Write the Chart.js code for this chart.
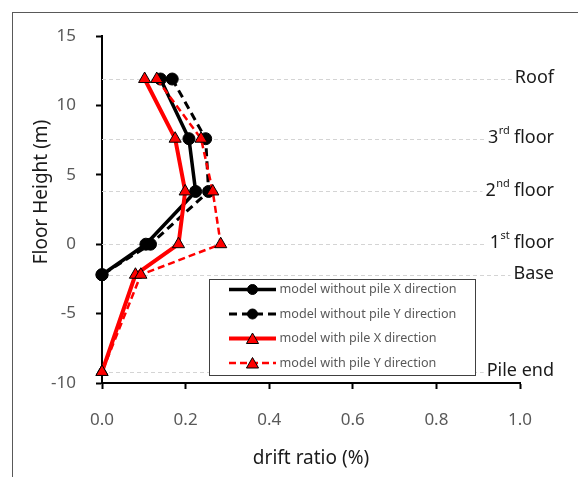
<!DOCTYPE html>
<html>
<head>
<meta charset="utf-8">
<script src="https://cdn.jsdelivr.net/npm/chart.js@4.4.0/dist/chart.umd.min.js"></script>
<style>
html, body { margin: 0; padding: 0; background: #fff; }
</style>
</head>
<body>
<canvas id="myDriftChart" width="578" height="477"></canvas>
<script>
// story levels, top to bottom (m)
var floorHeights = [11.9, 7.6, 3.8, 0, -2.2, -9.2];
var floorNames = ["Roof", "3rd floor", "2nd floor", "1st floor", "Base", "Pile end"];

// drift ratio (%) at each level, roof first
var driftNoPileX = [0.140, 0.208, 0.224, 0.105, 0];
var driftNoPileY = [0.168, 0.248, 0.255, 0.116, 0];
var driftPileX = [0.102, 0.175, 0.199, 0.183, 0.080, 0];
var driftPileY = [0.131, 0.237, 0.265, 0.284, 0.093, 0];

var xTicks = [0, 0.2, 0.4, 0.6, 0.8, 1.0];
var yTicks = [-10, -5, 0, 5, 10, 15];

function toPoints(drift) {
    var pts = [];
    for (var i = 0; i < drift.length; i++) pts.push({ x: drift[i], y: floorHeights[i] });
    return pts;
}

Chart.defaults.font.family = '"Noto Sans", sans-serif';

// dashed level lines + "Roof", "3rd floor" ... on the right
var floorLinesPlugin = {
    id: 'floorLines',
    beforeDatasetsDraw: function (chart) {
        var ctx = chart.ctx, area = chart.chartArea, y = chart.scales.y;
        ctx.save();
        for (var i = 0; i < floorHeights.length; i++) {
            var py = y.getPixelForValue(floorHeights[i]);
            var w = labelWidth(ctx, floorNames[i]);
            ctx.strokeStyle = '#d4d4d4';
            ctx.lineWidth = 1;
            ctx.setLineDash([4, 3]);
            ctx.beginPath();
            ctx.moveTo(area.left, Math.round(py) + 0.5);
            ctx.lineTo(554 - w - 3, Math.round(py) + 0.5);
            ctx.stroke();
        }
        ctx.restore();
    },
    afterDraw: function (chart) {
        var ctx = chart.ctx, y = chart.scales.y;
        ctx.save();
        ctx.fillStyle = '#1a1a1a';
        ctx.textBaseline = 'middle';
        for (var i = 0; i < floorHeights.length; i++) {
            var py = y.getPixelForValue(floorHeights[i]);
            drawLabel(ctx, floorNames[i], 554, py - 1);
        }
        ctx.restore();
    }
};

function splitOrdinal(text) {
    var m = /^(\d+)(st|nd|rd|th)(.*)$/.exec(text);
    if (!m) return [text, '', ''];
    return [m[1], m[2], m[3]];
}

function labelWidth(ctx, text) {
    var p = splitOrdinal(text);
    ctx.font = '18px "Noto Sans"';
    var w = ctx.measureText(p[0]).width + ctx.measureText(p[2]).width;
    ctx.font = '11px "Noto Sans"';
    return w + ctx.measureText(p[1]).width;
}

function drawLabel(ctx, text, right, py) {
    var p = splitOrdinal(text);
    var x = right - labelWidth(ctx, text);
    ctx.textAlign = 'left';
    ctx.font = '18px "Noto Sans"';
    ctx.fillText(p[0], x, py);
    x += ctx.measureText(p[0]).width;
    if (p[1]) {
        ctx.font = '11px "Noto Sans"';
        ctx.fillText(p[1], x + 0.5, py - 7);
        x += ctx.measureText(p[1]).width;
        ctx.font = '18px "Noto Sans"';
        ctx.fillText(p[2], x, py);
    }
}

// boxed legend inside the plot, outer frame, y title
var legendBoxPlugin = {
    id: 'legendBox',
    afterDatasetsDraw: function (chart) {
        var ctx = chart.ctx;
        var sets = chart.data.datasets;
        ctx.save();
        ctx.fillStyle = '#fff';
        ctx.fillRect(209, 279, 267, 97);
        ctx.strokeStyle = '#404040';
        ctx.lineWidth = 1;
        ctx.strokeRect(209.5, 279.5, 266, 96);
        for (var i = 0; i < sets.length; i++) {
            var ds = sets[i];
            var ry = 289.5 + i * 24.5;
            ctx.strokeStyle = ds.borderColor;
            ctx.lineWidth = ds.borderWidth;
            ctx.setLineDash(ds.borderDash || []);
            ctx.beginPath();
            ctx.moveTo(229, ry);
            ctx.lineTo(276, ry);
            ctx.stroke();
            ctx.setLineDash([]);
            ctx.fillStyle = ds.pointBackgroundColor;
            ctx.strokeStyle = ds.pointBorderColor;
            ctx.lineWidth = ds.pointBorderWidth;
            Chart.helpers.drawPoint(ctx, {
                pointStyle: ds.pointStyle,
                radius: ds.pointStyle === 'circle' ? 5 : 7,
                borderWidth: ds.pointBorderWidth
            }, 252.5, ry + (ds.pointStyle === 'triangle' ? 1.5 : 0));
            ctx.fillStyle = '#595959';
            ctx.font = '12.6px "Noto Sans"';
            ctx.textAlign = 'left';
            ctx.textBaseline = 'middle';
            ctx.fillText(ds.label, 279.5, ry);
        }
        ctx.restore();
    },
    afterDraw: function (chart) {
        var ctx = chart.ctx;
        ctx.save();
        ctx.strokeStyle = '#595959';
        ctx.lineWidth = 1;
        ctx.strokeRect(12.5, 12.5, 600, 500);
        ctx.translate(42, 192);
        ctx.rotate(-Math.PI / 2);
        ctx.fillStyle = '#1a1a1a';
        ctx.font = '19px "Noto Sans"';
        ctx.textAlign = 'center';
        ctx.textBaseline = 'middle';
        ctx.fillText('Floor Height (m)', 0, 0);
        ctx.restore();
    }
};

var canvasDrift = document.getElementById("myDriftChart");
var myDriftChart = new Chart(canvasDrift, {
    type: 'scatter',
    data: {
        datasets: [
            {
                label: "model without pile X direction",
                data: toPoints(driftNoPileX),
                showLine: true,
                borderColor: "#000",
                borderWidth: 3.5,
                borderJoinStyle: 'round',
                pointStyle: 'circle',
                pointRadius: 6,
                pointBackgroundColor: "#000",
                pointBorderColor: "#000",
                pointBorderWidth: 1,
                order: 4,
                clip: false
            },
            {
                label: "model without pile Y direction",
                data: toPoints(driftNoPileY),
                showLine: true,
                borderColor: "#000",
                borderWidth: 3,
                borderDash: [8, 5],
                borderJoinStyle: 'round',
                pointStyle: 'circle',
                pointRadius: 6,
                pointBackgroundColor: "#000",
                pointBorderColor: "#000",
                pointBorderWidth: 1,
                order: 3,
                clip: false
            },
            {
                label: "model with pile X direction",
                data: toPoints(driftPileX),
                showLine: true,
                borderColor: "#ff0000",
                borderWidth: 4,
                borderJoinStyle: 'round',
                pointStyle: 'triangle',
                pointRadius: 7,
                pointBackgroundColor: "#ff0000",
                pointBorderColor: "#000",
                pointBorderWidth: 1,
                order: 2,
                clip: false
            },
            {
                label: "model with pile Y direction",
                data: toPoints(driftPileY),
                showLine: true,
                borderColor: "#ff0000",
                borderWidth: 2.5,
                borderDash: [7, 4],
                borderJoinStyle: 'round',
                pointStyle: 'triangle',
                pointRadius: 7,
                pointBackgroundColor: "#ff0000",
                pointBorderColor: "#000",
                pointBorderWidth: 1,
                order: 1,
                clip: false
            }
        ]
    },
    options: {
        responsive: false,
        animation: false,
        layout: { padding: { top: 36, right: 58, bottom: 0, left: 0 } },
        plugins: {
            legend: { display: false },
            tooltip: { enabled: false }
        },
        scales: {
            x: {
                type: 'linear',
                min: 0,
                max: 1,
                afterFit: function (scale) { scale.height = 94; },
                afterBuildTicks: function (scale) {
                    scale.ticks = xTicks.map(function (v) { return { value: v }; });
                },
                ticks: {
                    color: '#595959',
                    font: { size: 17 },
                    padding: 21,
                    maxRotation: 0,
                    callback: function (v) { return v.toFixed(1); }
                },
                grid: { drawOnChartArea: false, drawTicks: true, tickLength: 6, tickColor: '#000', tickWidth: 2 },
                border: { color: '#000', width: 2 },
                title: {
                    display: true,
                    text: 'drift ratio (%)',
                    color: '#1a1a1a',
                    font: { size: 19 },
                    padding: { top: 0, bottom: 7 }
                }
            },
            y: {
                type: 'linear',
                min: -10,
                max: 15,
                afterFit: function (scale) { scale.width = 102; },
                afterBuildTicks: function (scale) {
                    scale.ticks = yTicks.map(function (v) { return { value: v }; });
                },
                ticks: {
                    color: '#595959',
                    font: { size: 17 },
                    padding: 20,
                    callback: function (v) { return String(v); }
                },
                grid: { drawOnChartArea: false, drawTicks: true, tickLength: 6, tickColor: '#000', tickWidth: 2 },
                border: { color: '#000', width: 2 }
            }
        }
    },
    plugins: [floorLinesPlugin, legendBoxPlugin]
});
</script>
</body>
</html>
